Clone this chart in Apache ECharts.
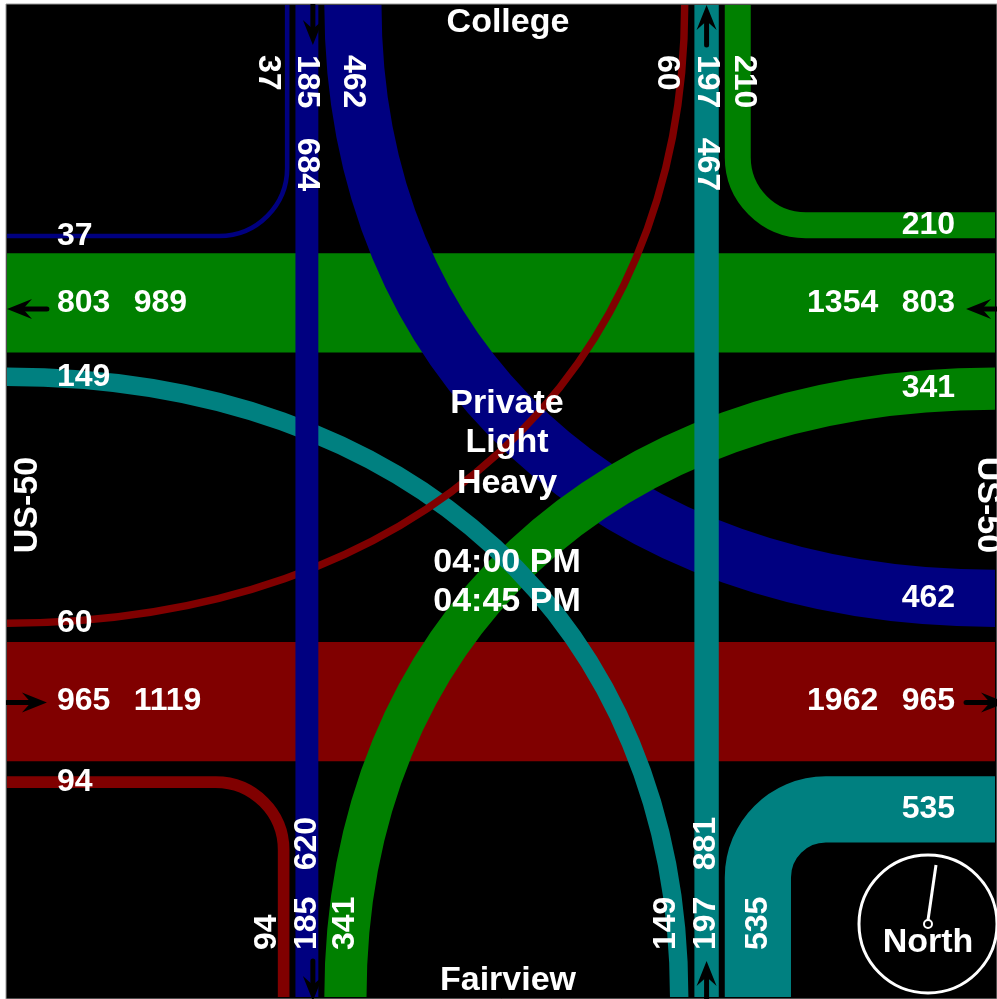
<!DOCTYPE html>
<html>
<head>
<meta charset="utf-8">
<title>College / Fairview at US-50</title>
<style>
  html, body { margin: 0; padding: 0; background: #fff; }
  #chart { width: 997px; height: 999px; }
</style>
<script src="https://cdn.jsdelivr.net/npm/echarts@6/dist/echarts.min.js"></script>
</head>
<body>
<div id="chart"></div>
<script>
// turning movement counts, 04:00 PM - 04:45 PM
const movements = ['SBR', 'SBT', 'SBL', 'WBR', 'WBT', 'WBL', 'NBR', 'NBT', 'NBL', 'EBR', 'EBT', 'EBL'];
const volumes = [37, 185, 462, 210, 803, 341, 535, 197, 149, 94, 965, 60];
const streetNames = { north: 'College', south: 'Fairview', east: 'US-50', west: 'US-50' };
const centerLines = ['Private', 'Light', 'Heavy', '04:00 PM', '04:45 PM'];

const vol = {};
movements.forEach((m, i) => { vol[m] = volumes[i]; });

// totals written next to the through volume at each end of a through band
const bandTotals = {
  SBT: { top: vol.SBR + vol.SBT + vol.SBL, bottom: vol.EBR + vol.SBT + vol.WBL },
  NBT: { top: vol.EBL + vol.NBT + vol.WBR, bottom: vol.NBR + vol.NBT + vol.NBL },
  WBT: { left: vol.SBR + vol.WBT + vol.NBL, right: vol.WBR + vol.WBT + vol.WBL },
  EBT: { left: vol.EBR + vol.EBT + vol.EBL, right: vol.SBL + vol.EBT + vol.NBR }
};

// ---- layout / style ----
const colors = { SB: '#000080', WB: '#008000', NB: '#008080', EB: '#800000' };
const SCALE = 0.124;            // px per vehicle
const EDGE = { left: 7, right: 997, top: 5, bottom: 999 };
const ROAD = { west: 307.5, east: 708, north: 303.5, south: 703 };
const GAP_V = 6, GAP_H = 15, RADIUS = 68, HANDLE = 0.6;
const FONT = 'bold 32px "Liberation Sans", Arial, sans-serif';
const TITLE_FONT = 'bold 34px "Liberation Sans", Arial, sans-serif';
const ARROW_SPAN = { top: [5, 45], bottom: [963, 1003], left: [7, 47], right: [968, 1008] };

const thruOf = { west: 'SBT', east: 'NBT', north: 'WBT', south: 'EBT' };
const thruSpec = {
  SBT: { axis: 'v', road: 'west', dir: 1, shift: 6 },
  NBT: { axis: 'v', road: 'east', dir: -1, shift: 0 },
  WBT: { axis: 'h', road: 'north', dir: -1, shift: 6 },
  EBT: { axis: 'h', road: 'south', dir: 1, shift: 1 }
};
const turnSpec = {
  SBR: { v: ['west', -1], h: ['north', -1], vEdge: 'top', hEdge: 'left', from: 'v', right: true },
  SBL: { v: ['west', 1], h: ['south', -1], vEdge: 'top', hEdge: 'right', from: 'v' },
  WBR: { v: ['east', 1], h: ['north', -1], vEdge: 'top', hEdge: 'right', from: 'h', right: true },
  WBL: { v: ['west', 1], h: ['north', 1], vEdge: 'bottom', hEdge: 'right', from: 'h' },
  NBR: { v: ['east', 1], h: ['south', 1], vEdge: 'bottom', hEdge: 'right', from: 'v', right: true },
  NBL: { v: ['east', -1], h: ['north', 1], vEdge: 'bottom', hEdge: 'left', from: 'v' },
  EBR: { v: ['west', -1], h: ['south', 1], vEdge: 'bottom', hEdge: 'left', from: 'h', right: true },
  EBL: { v: ['east', -1], h: ['south', -1], vEdge: 'top', hEdge: 'left', from: 'h' }
};

function wid(m) { return vol[m] * SCALE; }
function laneX(road, sign, m) { return ROAD[road] + sign * (wid(thruOf[road]) / 2 + GAP_V + wid(m) / 2); }
function laneY(road, sign, m) { return ROAD[road] + sign * (wid(thruOf[road]) / 2 + GAP_H + wid(m) / 2); }

function turnGeom(m) {
  const s = turnSpec[m];
  const x = laneX(s.v[0], s.v[1], m);
  const y = laneY(s.h[0], s.h[1], m);
  const vPt = [x, EDGE[s.vEdge]];
  const hPt = [EDGE[s.hEdge], y];
  return { x: x, y: y, corner: [x, y], a: s.from === 'v' ? vPt : hPt, b: s.from === 'v' ? hPt : vPt };
}

function unit(p, q) {
  const dx = q[0] - p[0], dy = q[1] - p[1], l = Math.hypot(dx, dy);
  return [dx / l, dy / l];
}
function lerp(p, q, t) { return [p[0] + (q[0] - p[0]) * t, p[1] + (q[1] - p[1]) * t]; }
function pt(p) { return p[0].toFixed(2) + ',' + p[1].toFixed(2); }

function arrow(tail, tip) {
  const u = unit(tail, tip), n = [-u[1], u[0]];
  const notch = [tip[0] - 16 * u[0], tip[1] - 16 * u[1]];
  const b1 = [tip[0] - 25 * u[0] + 10 * n[0], tip[1] - 25 * u[1] + 10 * n[1]];
  const b2 = [tip[0] - 25 * u[0] - 10 * n[0], tip[1] - 25 * u[1] - 10 * n[1]];
  return [
    { type: 'line', shape: { x1: tail[0], y1: tail[1], x2: notch[0], y2: notch[1] },
      style: { stroke: '#000', lineWidth: 5, lineCap: 'round' } },
    { type: 'polygon', shape: { points: [tip, b1, notch, b2] }, style: { fill: '#000' } }
  ];
}

function label(p, text, align, rotation) {
  return {
    type: 'text', x: p[0], y: p[1], rotation: rotation || 0,
    style: { text: String(text), fill: '#fff', font: FONT, align: align, verticalAlign: 'middle' }
  };
}

// through bands (+ arrows at both ends)
function renderThru(params, api) {
  const m = movements[api.value(0)];
  const s = thruSpec[m];
  const size = api.size([wid(m), wid(m)]);
  const c = ROAD[s.road];
  let a, b, lw, children = [];
  if (s.axis === 'v') {
    a = api.coord([c, EDGE.top]); b = api.coord([c, EDGE.bottom]); lw = size[0];
  } else {
    a = api.coord([EDGE.left, c]); b = api.coord([EDGE.right, c]); lw = size[1];
  }
  children.push({ type: 'line', shape: { x1: a[0], y1: a[1], x2: b[0], y2: b[1] },
    style: { stroke: colors[m.slice(0, 2)], lineWidth: lw, lineCap: 'butt' } });
  const ends = s.axis === 'v' ? ['top', 'bottom'] : ['left', 'right'];
  ends.forEach(e => {
    const span = ARROW_SPAN[e];
    const p0 = s.axis === 'v' ? [c + s.shift, span[0]] : [span[0], c + s.shift];
    const p1 = s.axis === 'v' ? [c + s.shift, span[1]] : [span[1], c + s.shift];
    const q0 = api.coord(p0), q1 = api.coord(p1);
    children = children.concat(s.dir > 0 ? arrow(q0, q1) : arrow(q1, q0));
  });
  return { type: 'group', children: children };
}

// turning movements
function renderTurn(params, api) {
  const m = movements[api.value(0)];
  const g = turnGeom(m);
  const A = api.coord(g.a), B = api.coord(g.b), C = api.coord(g.corner);
  const lw = api.size([wid(m), 0])[0];
  let d;
  if (turnSpec[m].right) {
    const u1 = unit(A, C), u2 = unit(C, B), k = 0.5523 * RADIUS;
    const P = [C[0] - RADIUS * u1[0], C[1] - RADIUS * u1[1]];
    const Q = [C[0] + RADIUS * u2[0], C[1] + RADIUS * u2[1]];
    d = 'M' + pt(A) + ' L' + pt(P) + ' C' + pt([P[0] + k * u1[0], P[1] + k * u1[1]]) + ' ' +
        pt([Q[0] - k * u2[0], Q[1] - k * u2[1]]) + ' ' + pt(Q) + ' L' + pt(B);
  } else {
    d = 'M' + pt(A) + ' C' + pt(lerp(A, C, HANDLE)) + ' ' + pt(lerp(B, C, HANDLE)) + ' ' + pt(B);
  }
  return { type: 'path', shape: { pathData: d },
    style: { fill: null, stroke: colors[m.slice(0, 2)], lineWidth: lw, lineCap: 'butt' } };
}

// volume labels
function renderLabels(params, api) {
  const m = movements[api.value(0)];
  const out = [];
  if (thruSpec[m]) {
    const s = thruSpec[m], c = ROAD[s.road], t = bandTotals[m];
    if (s.axis === 'v') {
      out.push(label(api.coord([c, 55]), vol[m], 'left', -Math.PI / 2));
      out.push(label(api.coord([c, 138]), t.top, 'left', -Math.PI / 2));
      out.push(label(api.coord([c, 952]), vol[m], 'left', Math.PI / 2));
      out.push(label(api.coord([c, 872]), t.bottom, 'left', Math.PI / 2));
    } else {
      out.push(label(api.coord([57, c]), vol[m], 'left'));
      out.push(label(api.coord([134, c]), t.left, 'left'));
      out.push(label(api.coord([957, c]), vol[m], 'right'));
      out.push(label(api.coord([880, c]), t.right, 'right'));
    }
  } else {
    const s = turnSpec[m], g = turnGeom(m), w = wid(m);
    const lx = w < 20 ? g.x + w / 2 - 22 : (w < 30 ? g.x + 6 : g.x);
    if (s.vEdge === 'top') out.push(label(api.coord([lx, 55]), vol[m], 'left', -Math.PI / 2));
    else out.push(label(api.coord([lx, 952]), vol[m], 'left', Math.PI / 2));
    if (s.hEdge === 'left') out.push(label(api.coord([57, g.y]), vol[m], 'left'));
    else out.push(label(api.coord([957, g.y]), vol[m], 'right'));
  }
  return { type: 'group', children: out };
}

const idx = list => list.map(m => [movements.indexOf(m), vol[m]]);

function title(x, y, text, rotation) {
  return { type: 'text', x: x, y: y, rotation: rotation || 0, z: 10,
    style: { text: text, fill: '#fff', font: TITLE_FONT, align: 'center', verticalAlign: 'middle' } };
}

const option = {
  backgroundColor: '#fff',
  animation: false,
  grid: { show: true, left: 6, top: 4, right: -2, bottom: -2, backgroundColor: '#000',
          borderColor: '#9a9a9a', borderWidth: 1 },
  xAxis: { type: 'value', min: 6, max: 999, show: false },
  yAxis: { type: 'value', min: 4, max: 1001, inverse: true, show: false },
  series: [
    { type: 'custom', name: 'through E-W', z: 1, clip: true, silent: true,
      renderItem: renderThru, data: idx(['WBT', 'EBT']) },
    { type: 'custom', name: 'turns', z: 2, clip: true, silent: true,
      renderItem: renderTurn, data: idx(['SBR', 'SBL', 'WBR', 'WBL', 'NBR', 'NBL', 'EBR', 'EBL']) },
    { type: 'custom', name: 'through N-S', z: 3, clip: true, silent: true,
      renderItem: renderThru, data: idx(['SBT', 'NBT']) },
    { type: 'custom', name: 'labels', z: 4, clip: true, silent: true,
      renderItem: renderLabels, data: idx(movements) }
  ],
  graphic: [
    title(508, 23, streetNames.north),
    title(508, 981, streetNames.south),
    title(28, 505, streetNames.west, Math.PI / 2),
    title(987, 505, streetNames.east, -Math.PI / 2),
    ...centerLines.map((t, i) => title(507, [404, 443, 484, 563, 602][i], t)),
    { type: 'circle', z: 10, shape: { cx: 928, cy: 924, r: 69 },
      style: { fill: null, stroke: '#fff', lineWidth: 3 } },
    { type: 'line', z: 10, shape: { x1: 928, y1: 920, x2: 936, y2: 865 },
      style: { stroke: '#fff', lineWidth: 3 } },
    { type: 'circle', z: 11, shape: { cx: 928, cy: 924, r: 4 },
      style: { fill: '#000', stroke: '#fff', lineWidth: 2 } },
    title(928, 943, 'North')
  ]
};

const chart = echarts.init(document.getElementById('chart'));
chart.setOption(option);
</script>
</body>
</html>
